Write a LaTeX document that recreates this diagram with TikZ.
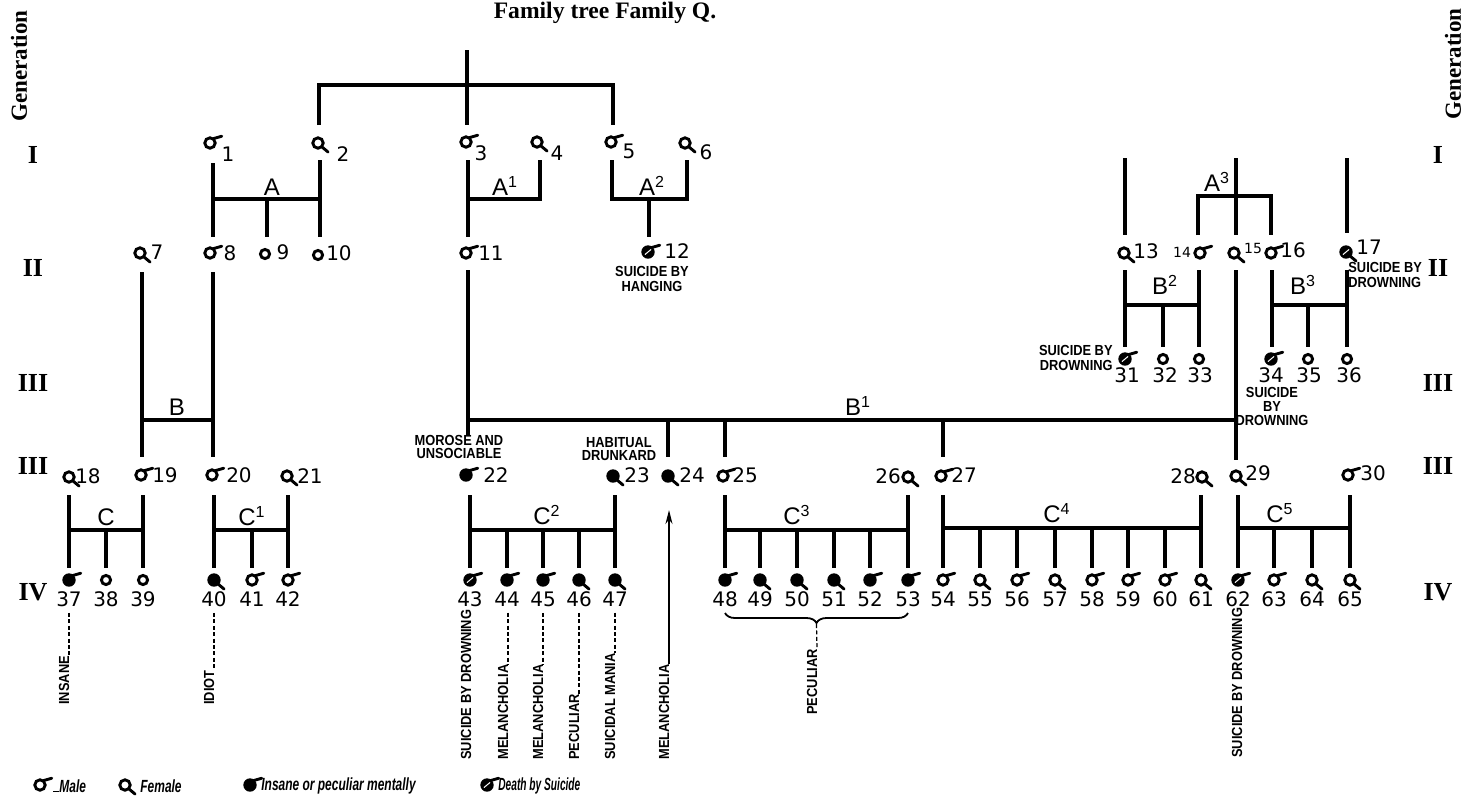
\documentclass[tikz,border=0pt]{standalone}
\usepackage{graphicx}
\usepackage{fontspec}
\setmainfont{Liberation Serif}
\setsansfont{Liberation Sans}
\newfontfamily\numfont{DejaVu Sans}
\newfontfamily\condfont[FakeStretch=0.88]{Liberation Sans}
\newfontfamily\legfont[FakeStretch=0.68]{Liberation Sans}
\usetikzlibrary{arrows.meta,decorations.pathreplacing}
\newcommand\symmale{\draw[sym] (0,0) circle (2.6pt); \draw[sym] (55:2.6pt) -- (30:6.8pt);}
\newcommand\symfemale{\draw[sym] (0,0) circle (2.6pt); \draw[sym] (-45:2.6pt) -- (-42:6.8pt);}
\newcommand\symimale{\fill (0,0) circle (3.35pt); \draw[sym] (55:2.6pt) -- (30:6.8pt);}
\newcommand\symifemale{\fill (0,0) circle (3.35pt); \draw[sym] (-45:2.6pt) -- (-42:6.8pt);}
\newcommand\symsmale{\symimale \draw[white,line width=0.5pt] (-140:2pt) -- (40:2pt);}
\newcommand\symsfemale{\symifemale \draw[white,line width=0.5pt] (-140:2pt) -- (40:2pt);}
\newcommand\symchild{\draw[sym] (0,0) circle (2.3pt);}
\begin{document}
\begin{tikzpicture}[x=0.5pt,y=-0.5pt,
  sym/.style={line width=1.45pt, line cap=round},
  tree/.style={line width=1.7pt},
  num/.style={font=\numfont\fontsize{10}{12}\selectfont, inner sep=0pt},
  smallnum/.style={font=\numfont\fontsize{7}{8}\selectfont, inner sep=0pt},
  genlab/.style={font=\bfseries\fontsize{13}{14}\selectfont, inner sep=0pt},
  grp/.style={font=\sffamily\fontsize{12}{14}\selectfont, inner sep=0pt},
  note/.style={font=\condfont\bfseries\fontsize{7.3}{7.8}\selectfont, inner sep=0pt, align=center},
  vnote/.style={note, rotate=90, anchor=base west},
  dashlink/.style={line width=0.6pt, dash pattern=on 2pt off 1.2pt},
  leg/.style={font=\legfont\bfseries\itshape\fontsize{8.8}{10}\selectfont, inner sep=0pt, anchor=west}]
\fill[white] (0,0) rectangle (1463,799);
\useasboundingbox (0,0) rectangle (1463,799);

% title and generation headings
\node[font=\bfseries\fontsize{11.8}{13}\selectfont, inner sep=0pt] (title) at (605,13) {Family tree Family Q.};
\node[font=\bfseries\fontsize{11.5}{12}\selectfont, inner sep=0pt, rotate=90] (genL) at (19,66) {Generation};
\node[font=\bfseries\fontsize{11.5}{12}\selectfont, inner sep=0pt, rotate=90] (genR) at (1453,64) {Generation};
\foreach \g/\y/\nm in {I/155/a, II/268/b, III/383/c, III/466/d, IV/592/e}{
  \node[genlab] (gl\nm) at (33,\y) {\g};
  \node[genlab] (gr\nm) at (1438,\y) {\g};
}

% persons: x/y/type/number/label x/label y
\foreach \x/\y/\t/\n/\lx/\ly in {
  210/143/male/1/228/154, 318/143/female/2/343/154, 466/142/male/3/481/153,
  537/142/female/4/557/153, 611/142/male/5/629/151, 685/143/female/6/706/152,
  140/253/female/7/157/252, 210/253/male/8/230/253, 265/254/child/9/283/252,
  318/255/child/10/339/253, 466/253/male/11/491/253, 648/252/smale/12/677/251,
  1124/253/female/13/1146/251, 1271/253/male/16/1293/250, 1346/252/sfemale/17/1369/247,
  1125/359/smale/31/1127/375, 1163/359/child/32/1165/375, 1199/359/child/33/1200/375,
  1271/359/smale/34/1271/375, 1308/359/child/35/1309/375, 1347/359/child/36/1349/375,
  69/477/female/18/88/476, 141/475/male/19/165/475, 212/475/male/20/239/475,
  287/476/female/21/310/476, 466/475/imale/22/496/475, 613/476/ifemale/23/637/475,
  668/476/ifemale/24/692/475, 723/476/male/25/745/475, 908/477/female/26/888/476,
  941/476/male/27/964/475, 1202/477/female/28/1183/476, 1236/476/female/29/1258/473,
  1348/475/male/30/1373/473}{
  \coordinate (p\n) at (\x,\y);
  \begin{scope}[shift={(p\n)}]\csname sym\t\endcsname\end{scope}
  \node[num] (n\n) at (\lx,\ly) {\n};
}
\coordinate (p14) at (1200,253);
\begin{scope}[shift={(p14)}]\symmale\end{scope}
\node[smallnum] (n14) at (1182,252) {14};
\coordinate (p15) at (1234,253);
\begin{scope}[shift={(p15)}]\symfemale\end{scope}
\node[smallnum] (n15) at (1253,248) {15};

% generation IV
\foreach \x/\t/\n in {69/imale/37, 106/child/38, 143/child/39, 214/ifemale/40, 252/male/41,
  288/male/42, 470/smale/43, 507/imale/44, 543/imale/45, 579/ifemale/46, 615/ifemale/47,
  725/imale/48, 760/ifemale/49, 797/ifemale/50, 834/ifemale/51, 870/imale/52, 908/imale/53,
  943/male/54, 980/female/55, 1017/male/56, 1055/female/57, 1092/male/58, 1128/male/59,
  1165/male/60, 1201/female/61, 1238/smale/62, 1274/male/63, 1312/female/64, 1350/female/65}{
  \coordinate (p\n) at (\x,580);
  \begin{scope}[shift={(p\n)}]\csname sym\t\endcsname\end{scope}
  \node[num] (n\n) at (\x,599) {\n};
}

% tree lines
\draw[tree] (467,50) -- (467,125);
\draw[tree] (319,125) |- (613,85) -- (613,125);
\draw[tree] (213,163)--(213,237) (320,160)--(320,237) (213,199)--(320,199) (267,199)--(267,237);
\draw[tree] (468,160)--(468,237) (540,160)--(540,199)--(468,199);
\draw[tree] (612,160)--(612,199)--(687,199)--(687,160) (649,199)--(649,237);
\draw[tree] (1125,158)--(1125,235) (1236,158)--(1236,235) (1347,158)--(1347,233)
  (1198,235)--(1198,196)--(1271,196)--(1271,235);
\draw[tree] (142,272)--(142,457) (213,272)--(213,457) (142,420)--(213,420);
\draw[tree] (468,270)--(468,435) (468,420)--(1236,420) (668,420)--(668,457)
  (725,420)--(725,457) (943,420)--(943,457) (1236,270)--(1236,460);
\draw[tree] (1125,270)--(1125,347) (1199,270)--(1199,347) (1125,305)--(1199,305) (1163,305)--(1163,347);
\draw[tree] (1272,270)--(1272,347) (1347,270)--(1347,347) (1272,305)--(1347,305) (1308,305)--(1308,347);
% sibships
\draw[tree] (69,495)--(69,568) (143,495)--(143,568) (69,530)--(143,530) (106,530)--(106,568);
\draw[tree] (214,495)--(214,568) (288,495)--(288,568) (214,530)--(288,530) (252,530)--(252,568);
\draw[tree] (470,495)--(470,568) (615,495)--(615,568) (470,530)--(615,530);
\foreach \x in {507,543,579} \draw[tree] (\x,530)--(\x,568);
\draw[tree] (725,495)--(725,568) (908,495)--(908,568) (725,530)--(908,530);
\foreach \x in {760,797,834,870} \draw[tree] (\x,530)--(\x,568);
\draw[tree] (943,495)--(943,568) (1201,495)--(1201,568) (943,528)--(1201,528);
\foreach \x in {980,1017,1055,1092,1128,1165} \draw[tree] (\x,528)--(\x,568);
\draw[tree] (1238,495)--(1238,568) (1350,495)--(1350,568) (1238,528)--(1350,528);
\foreach \x in {1274,1312} \draw[tree] (\x,528)--(\x,568);

% group letters
\node[grp] (gA) at (272,187) {A};
\node[grp] (gA1) at (505,186) {A\textsuperscript{1}};
\node[grp] (gA2) at (652,186) {A\textsuperscript{2}};
\node[grp] (gA3) at (1217,182) {A\textsuperscript{3}};
\node[grp] (gB) at (177,407) {B};
\node[grp] (gB1) at (858,406) {B\textsuperscript{1}};
\node[grp] (gB2) at (1165,285) {B\textsuperscript{2}};
\node[grp] (gB3) at (1303,285) {B\textsuperscript{3}};
\node[grp] (gC) at (106,517) {C};
\node[grp] (gC1) at (252,516) {C\textsuperscript{1}};
\node[grp] (gC2) at (547,515) {C\textsuperscript{2}};
\node[grp] (gC3) at (797,515) {C\textsuperscript{3}};
\node[grp] (gC4) at (1057,513) {C\textsuperscript{4}};
\node[grp] (gC5) at (1280,513) {C\textsuperscript{5}};

% notes
\node[note] (t12) at (652,279) {SUICIDE BY\\HANGING};
\node[note, anchor=west, align=left] (t17) at (1348,275) {SUICIDE BY\\DROWNING};
\node[note, anchor=east, align=right] (t31) at (1113,358) {SUICIDE BY\\DROWNING};
\node[note, font=\condfont\bfseries\fontsize{7.3}{7}\selectfont] (t15) at (1272,406) {SUICIDE\\BY\\DROWNING};
\node[note, font=\condfont\bfseries\fontsize{7.3}{6.5}\selectfont] (t22) at (459,447) {MOROSE AND\\UNSOCIABLE};
\node[note, font=\condfont\bfseries\fontsize{7.3}{6.5}\selectfont] (t23) at (619,449) {HABITUAL\\DRUNKARD};

% bottom vertical notes
\node[vnote] (l37) at (69,705) {INSANE};
\node[vnote] (l40) at (214,705) {IDIOT};
\node[vnote] (l43) at (471,760) {SUICIDE BY DROWNING};
\node[vnote] (l44) at (508,760) {MELANCHOLIA};
\node[vnote] (l45) at (543,760) {MELANCHOLIA};
\node[vnote] (l46) at (579,760) {PECULIAR};
\node[vnote] (l47) at (615,760) {SUICIDAL MANIA};
\node[vnote] (l24) at (669,760) {MELANCHOLIA};
\node[vnote] (lbr) at (817,715) {PECULIAR};
\node[vnote] (l62) at (1242,758) {SUICIDE BY DROWNING};
\foreach \n in {37,40,44,45,46,47}
  \draw[dashlink] ([yshift=-3pt]l\n.base east |- n\n.south) -- (l\n.base east);
\coordinate (a24) at (669,510);
\draw[line width=0.8pt, -{Stealth[length=7pt,width=3.5pt]}] (l24.base east) -- (a24);
\draw[line width=0.9pt, decorate, decoration={brace, mirror, amplitude=5pt}] (725,613) -- (908,613);
\coordinate (brtip) at (816.5,624);
\draw[dashlink] (brtip) -- (lbr.base east);

% legend
\begin{scope}[shift={(40,785)}]\symmale\end{scope}
\node[leg] (lgM) at (53,786) {\rule{3pt}{0.8pt}Male};
\begin{scope}[shift={(125,785)}]\symfemale\end{scope}
\node[leg] (lgF) at (140,786) {Female};
\begin{scope}[shift={(250,785)}]\symimale\end{scope}
\node[leg] (lgI) at (261,786) {Insane or peculiar mentally};
\begin{scope}[shift={(487,785)}]\symsmale\end{scope}
\node[leg] (lgS) at (498,786) {\scalebox{0.85}[1]{Death by Suicide}};
\end{tikzpicture}
\end{document}
